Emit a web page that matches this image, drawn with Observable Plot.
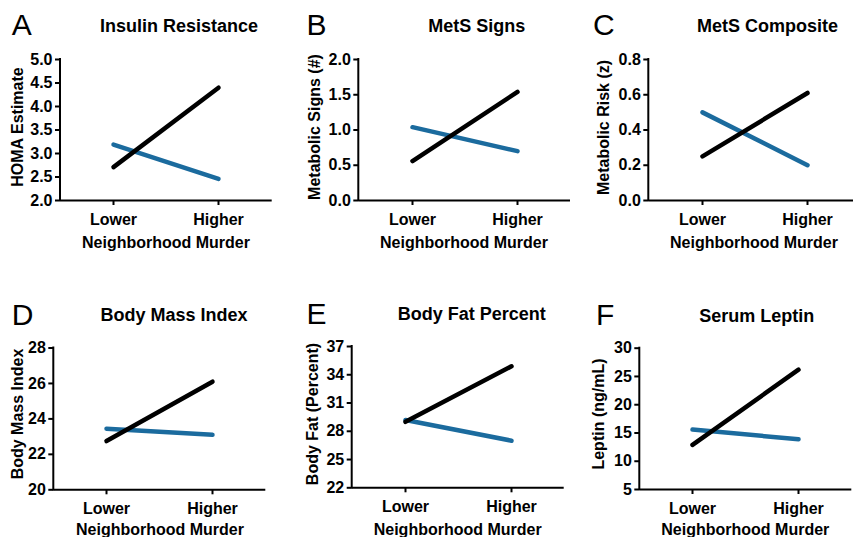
<!DOCTYPE html>
<html>
<head>
<meta charset="utf-8">
<script src="https://cdn.jsdelivr.net/npm/d3@7"></script>
<script src="https://cdn.jsdelivr.net/npm/@observablehq/plot@0.6"></script>
<style>
html, body { margin: 0; padding: 0; background: #fff; }
#root { position: relative; width: 853px; height: 537px; overflow: hidden; background: #fff; }
#root svg { position: absolute; }
</style>
</head>
<body>
<div id="root"></div>
<script>
// ---------- data ----------
const levels = ["Lower", "Higher"];
const seriesNames = ["Series 1", "Series 2"]; // black, blue
const panelLetters = ["A", "B", "C", "D", "E", "F"];
const panelTitles = ["Insulin Resistance", "MetS Signs", "MetS Composite", "Body Mass Index", "Body Fat Percent", "Serum Leptin"];
const yLabels = ["HOMA Estimate", "Metabolic Signs (#)", "Metabolic Risk (z)", "Body Mass Index", "Body Fat (Percent)", "Leptin (ng/mL)"];
const xLabel = "Neighborhood Murder";
const blackValues = [[2.71, 4.40], [0.56, 1.54], [0.25, 0.61], [22.75, 26.1], [29.0, 34.9], [12.9, 26.2]];
const blueValues = [[3.19, 2.46], [1.04, 0.70], [0.50, 0.20], [23.45, 23.1], [29.2, 27.0], [15.6, 13.9]];
const yTicks = [
  [2.0, 2.5, 3.0, 3.5, 4.0, 4.5, 5.0],
  [0.0, 0.5, 1.0, 1.5, 2.0],
  [0.0, 0.2, 0.4, 0.6, 0.8],
  [20, 22, 24, 26, 28],
  [22, 25, 28, 31, 34, 37],
  [5, 10, 15, 20, 25, 30]
];
const yTickFormats = [".1f", ".1f", ".1f", "d", "d", "d"];

// ---------- layout & style ----------
const FONT = '"Liberation Sans", Arial, Helvetica, sans-serif';
const COLORS = ["#000000", "#1b6b9e"];
const layout = [
  {left: 0,   top: 0,   width: 290, height: 260, ml: 60,   mr: 18.3, mt: 59,   mb: 60,   title: [179, 31.7],   letter: [11.7, 35],  ylab: [22.5, 127],  xlab: [166, 248.3]},
  {left: 290, top: 0,   width: 290, height: 260, ml: 68.3, mr: 10,   mt: 59,   mb: 60,   title: [476.7, 32.3], letter: [306.5, 35], ylab: [319.5, 127], xlab: [464, 248.3]},
  {left: 580, top: 0,   width: 290, height: 260, ml: 68.3, mr: 10,   mt: 59,   mb: 60,   title: [767.5, 32.3], letter: [593, 35],   ylab: [609, 127.5], xlab: [754, 248.3]},
  {left: 0,   top: 290, width: 290, height: 247, ml: 53.3, mr: 24.7, mt: 57.5, mb: 47.7, title: [174, 320.7],  letter: [11.7, 325], ylab: [22.5, 414],  xlab: [160, 535]},
  {left: 290, top: 290, width: 290, height: 247, ml: 61.7, mr: 16.3, mt: 56,   mb: 49.7, title: [471.7, 320],  letter: [306.5, 324], ylab: [317.5, 414], xlab: [457.7, 535]},
  {left: 580, top: 290, width: 290, height: 247, ml: 59.3, mr: 18.7, mt: 57.7, mb: 48,   title: [756.7, 321.7], letter: [596, 325], ylab: [604, 414],   xlab: [745.3, 535]}
];

const root = document.getElementById("root");

// left axis line drawn as a render-function mark
function yAxisLine(index, scales, values, dimensions) {
  const {marginLeft, marginTop, marginBottom, height} = dimensions;
  const ln = document.createElementNS("http://www.w3.org/2000/svg", "line");
  ln.setAttribute("x1", marginLeft);
  ln.setAttribute("x2", marginLeft);
  ln.setAttribute("y1", marginTop);
  ln.setAttribute("y2", height - marginBottom);
  ln.setAttribute("stroke", "#000");
  ln.setAttribute("stroke-width", 2);
  ln.setAttribute("stroke-linecap", "square");
  return ln;
}

panelTitles.forEach((title, i) => {
  const L = layout[i];
  const ticks = yTicks[i];
  const yMin = d3.min(ticks), yMax = d3.max(ticks);
  const blueRows = levels.map((lv, j) => ({level: lv, value: blueValues[i][j], series: seriesNames[1]}));
  const blackRows = levels.map((lv, j) => ({level: lv, value: blackValues[i][j], series: seriesNames[0]}));
  const svg = Plot.plot({
    width: L.width,
    height: L.height,
    marginLeft: L.ml,
    marginRight: L.mr,
    marginTop: L.mt,
    marginBottom: L.mb,
    style: {fontFamily: FONT, fontSize: "16px", fontWeight: "bold", color: "#000", background: "transparent", overflow: "visible"},
    x: {type: "point", domain: levels, padding: 0.5, label: null},
    y: {domain: [yMin, yMax], label: null},
    color: {domain: seriesNames, range: COLORS},
    marks: [
      Plot.axisX({tickSize: 5, tickPadding: 8, strokeWidth: 2, label: null}),
      Plot.axisY({ticks: ticks, tickFormat: d3.format(yTickFormats[i]), tickSize: 5, tickPadding: 3, strokeWidth: 2, label: null}),
      Plot.ruleY([yMin], {strokeWidth: 2, stroke: "#000"}),
      yAxisLine,
      Plot.line(blueRows, {x: "level", y: "value", stroke: "series", strokeWidth: 4.5}),
      Plot.line(blackRows, {x: "level", y: "value", stroke: "series", strokeWidth: 4.5})
    ]
  });
  svg.style.position = "absolute";
  svg.style.left = L.left + "px";
  svg.style.top = L.top + "px";
  svg.style.maxWidth = "none";
  root.appendChild(svg);
});

// ---------- text overlay: panel letters, titles, axis labels ----------
const overlay = d3.select(root).append("svg")
  .attr("width", 853).attr("height", 537)
  .style("left", "0px").style("top", "0px")
  .style("pointer-events", "none")
  .attr("font-family", FONT);

panelTitles.forEach((title, i) => {
  const L = layout[i];
  overlay.append("text")
    .attr("x", L.letter[0]).attr("y", L.letter[1])
    .attr("font-size", 30).attr("font-weight", "normal")
    .text(panelLetters[i]);
  overlay.append("text")
    .attr("x", L.title[0]).attr("y", L.title[1])
    .attr("text-anchor", "middle")
    .attr("font-size", 18).attr("font-weight", "bold")
    .text(title);
  overlay.append("text")
    .attr("transform", `translate(${L.ylab[0]},${L.ylab[1]}) rotate(-90)`)
    .attr("text-anchor", "middle")
    .attr("font-size", 16).attr("font-weight", "bold")
    .text(yLabels[i]);
  overlay.append("text")
    .attr("x", L.xlab[0]).attr("y", L.xlab[1])
    .attr("text-anchor", "middle")
    .attr("font-size", 16).attr("font-weight", "bold")
    .text(xLabel);
});
</script>
</body>
</html>
